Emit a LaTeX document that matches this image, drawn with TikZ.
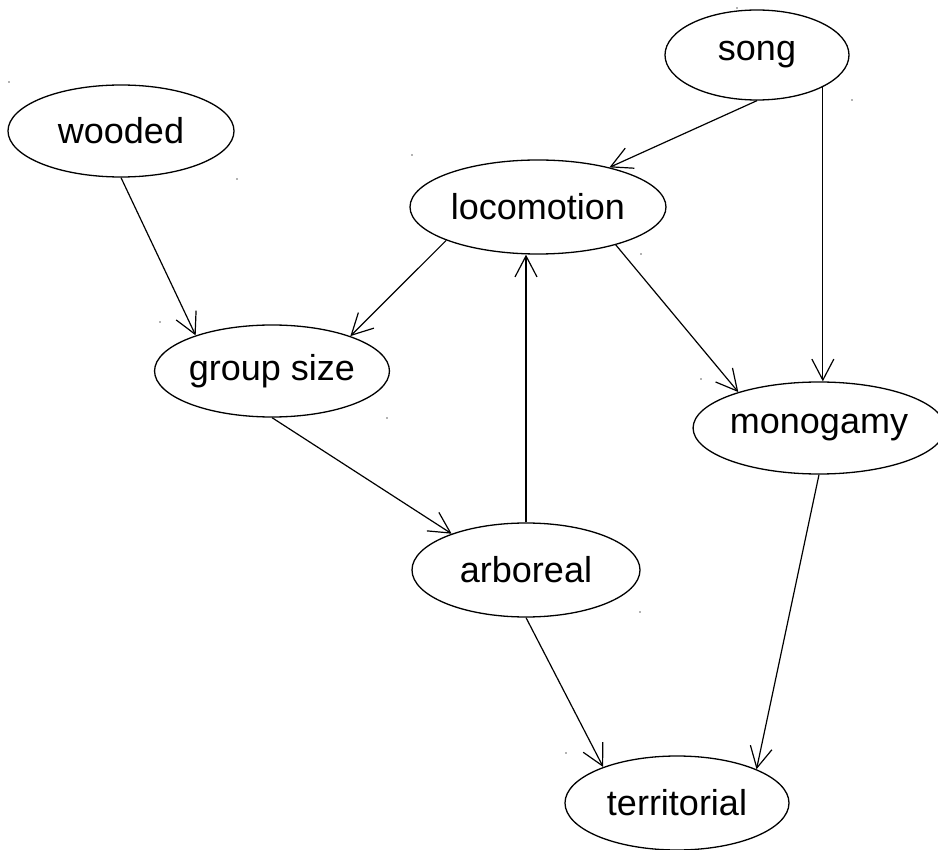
\documentclass[tikz,border=0pt]{standalone}
\usepackage{fontspec}
\setmainfont{Liberation Sans}
\usetikzlibrary{shapes.geometric,arrows.meta}
\begin{document}
\begin{tikzpicture}[x=1pt,y=-1pt,
  ell/.style={draw,ellipse,line width=1.3pt,inner sep=0pt,font=\fontsize{36}{40}\selectfont},
  edge/.style={line width=1.2pt,-{Straight Barb[length=21pt,width=22pt]}},
  speck/.style={fill=black!60}]
\useasboundingbox (0,0) rectangle (938,850);
\node[ell,minimum width=184pt,minimum height=90pt] (song) at (757,55) {song};
\node[ell,minimum width=226pt,minimum height=92pt] (wooded) at (121,131) {wooded};
\node[ell,minimum width=256pt,minimum height=94pt] (locomotion) at (538,207) {locomotion};
\node[ell,minimum width=224pt,minimum height=92pt] (groupsize) at (272,371) {group size};
\node[ell,minimum width=238pt,minimum height=92pt] (monogamy) at (819,428) {monogamy};
\node[ell,minimum width=228pt,minimum height=94pt] (arboreal) at (526,570) {arboreal};
\node[ell,minimum width=224pt,minimum height=94pt] (territorial) at (677,803) {territorial};

\draw[edge] (song.-90) -- (locomotion.29);
\draw[edge] (song.-26) -- (song.-26 |- monogamy.north);
\draw[edge] (wooded.-90) -- (groupsize.155);
\draw[edge] (locomotion.200) -- (groupsize.24);
\draw[edge] (locomotion.-26.6) -- (monogamy.156.5);
\draw[edge] (groupsize.-90) -- (arboreal.154.6);
\draw[edge] (arboreal.north) -- (arboreal.north |- locomotion.south);
\draw[edge] (arboreal.-90) -- (territorial.154);
\draw[edge] (monogamy.-90) -- (territorial.23.5);

\foreach \p in {(9,82),(237,179),(412,155),(641,254),(160,322),(387,418),(701,379),(640,612),(566,753),(852,100),(737,8)}
  \fill[speck] \p circle (0.9pt);
\end{tikzpicture}
\end{document}
